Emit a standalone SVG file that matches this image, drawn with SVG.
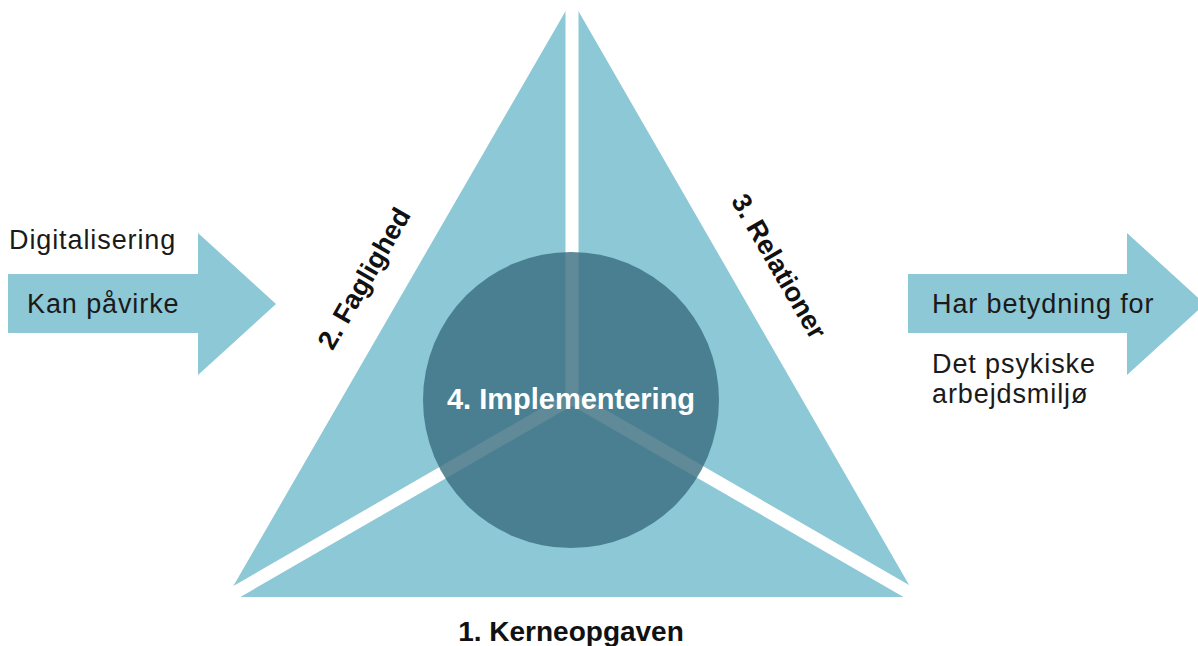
<svg xmlns="http://www.w3.org/2000/svg" width="1198" height="646" viewBox="0 0 1198 646">
<style>
.lt{fill:#8CC8D5}
.t{font-family:"Liberation Sans",Arial,sans-serif;font-size:27px;fill:#1a1a1a;letter-spacing:0.9px}
.b{font-family:"Liberation Sans",Arial,sans-serif;font-weight:bold;fill:#111}
</style>
<rect width="1198" height="646" fill="#fff"/>
<g id="triangle">
<polygon class="lt" points="572,0 227,597 916,597"/>
<g stroke="#fff" stroke-width="13" stroke-linecap="butt">
<line x1="572" y1="398" x2="572" y2="-10"/>
<line x1="572" y1="398" x2="210" y2="607"/>
<line x1="572" y1="398" x2="934" y2="607"/>
</g>
</g>
<g id="circle">
<circle cx="571" cy="400" r="148" fill="#3A6D7F" fill-opacity="0.8"/>
<text class="b" x="571" y="409" font-size="29" style="fill:#fff" text-anchor="middle">4. Implementering</text>
</g>
<g id="label1"><text class="b" x="571" y="641" font-size="28" text-anchor="middle">1. Kerneopgaven</text></g>
<g id="label2"><text class="b" font-size="27" text-anchor="middle" transform="translate(372,283) rotate(-60)">2. Faglighed</text></g>
<g id="label3"><text class="b" font-size="27" text-anchor="middle" transform="translate(771,271) rotate(60)">3. Relationer</text></g>
<g id="arrow-left">
<polygon class="lt" points="8,274 198,274 198,233 276,304 198,375 198,333 8,333"/>
<text class="t" x="9" y="249">Digitalisering</text>
<text class="t" x="27" y="313">Kan påvirke</text>
</g>
<g id="arrow-right">
<polygon class="lt" points="908,274 1127,274 1127,233 1205,304 1127,375 1127,333 908,333"/>
<text class="t" x="932" y="313">Har betydning for</text>
<text class="t" x="932" y="373">Det psykiske</text>
<text class="t" x="932" y="403">arbejdsmiljø</text>
</g>
</svg>
